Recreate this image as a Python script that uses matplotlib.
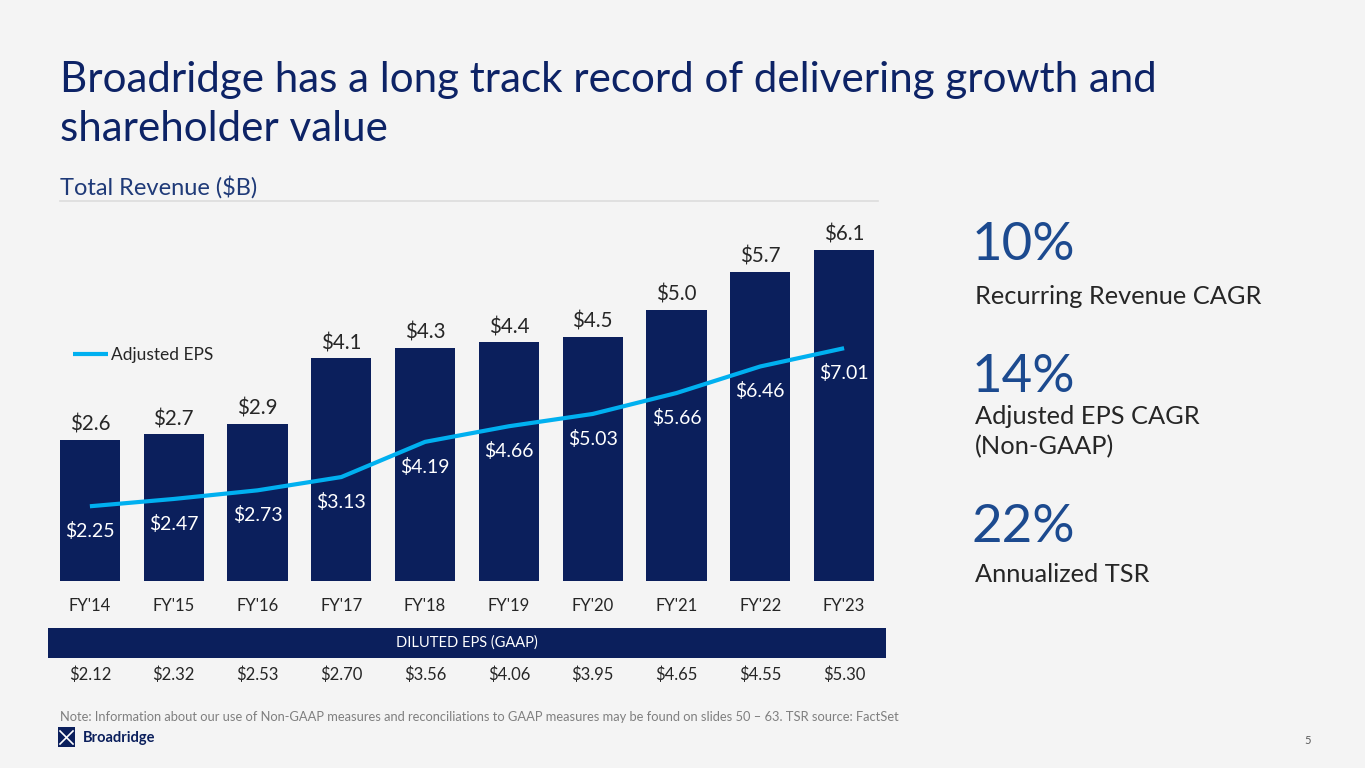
import matplotlib.pyplot as plt
from matplotlib.patches import Rectangle
from matplotlib.lines import Line2D

plt.rcParams['font.family'] = ['Lato', 'DejaVu Sans']

years = ["FY'14", "FY'15", "FY'16", "FY'17", "FY'18", "FY'19", "FY'20", "FY'21", "FY'22", "FY'23"]
revenue = [2.6, 2.7, 2.9, 4.1, 4.3, 4.4, 4.5, 5.0, 5.7, 6.1]
adj_eps = [2.25, 2.47, 2.73, 3.13, 4.19, 4.66, 5.03, 5.66, 6.46, 7.01]
diluted_eps = [2.12, 2.32, 2.53, 2.70, 3.56, 4.06, 3.95, 4.65, 4.55, 5.30]

stats = ["10%", "14%", "22%"]
stat_labels = ["Recurring Revenue CAGR", "Adjusted EPS CAGR\n(Non-GAAP)", "Annualized TSR"]

BG = '#f4f4f4'
NAVY = '#0b1f5c'
CYAN = '#00b0f0'
TITLE_C = '#0d2366'
STAT_C = '#1c4a8f'
TXT = '#262626'

W, H = 1365, 768
fig = plt.figure(figsize=(W / 100, H / 100), dpi=100, facecolor=BG)


def fx(px):
    return px / W


def fy(py):
    return 1 - py / H


# title block
fig.text(fx(60), fy(80), "Broadridge has a long track record of delivering growth and",
         fontsize=30.3, color=TITLE_C, va='center', ha='left')
fig.text(fx(60), fy(129), "shareholder value",
         fontsize=30.3, color=TITLE_C, va='center', ha='left')
fig.text(fx(60), fy(187), "Total Revenue ($B)", fontsize=17, color='#1f3a78', va='center', ha='left')
fig.add_artist(Line2D([fx(60), fx(878)], [fy(201), fy(201)], color='#dcdcdc', lw=1.2))

# chart
ax = fig.add_axes([fx(48), fy(581), fx(886) - fx(48), 361 / H])
ax.set_facecolor('none')
x = range(len(years))
bars = ax.bar(x, revenue, width=0.716, color=NAVY, zorder=2)
ax.set_xlim(-0.5, len(years) - 0.5)
ax.set_ylim(0, 6.65)
for b, v in zip(bars, revenue):
    ax.annotate(f"${v:.1f}", (b.get_x() + b.get_width() / 2, v), xytext=(0, 15),
                textcoords='offset pixels', ha='center', va='center', fontsize=14.8, color=TXT)
for i, lab in enumerate(years):
    ax.annotate(lab, (i, 0), xycoords=('data', 'axes fraction'), xytext=(0, -25),
                textcoords='offset pixels', ha='center', va='center', fontsize=12, color=TXT)
    ax.annotate(f"${diluted_eps[i]:.2f}", (i, 0), xycoords=('data', 'axes fraction'), xytext=(0, -94),
                textcoords='offset pixels', ha='center', va='center', fontsize=12, color=TXT)
for s in ax.spines.values():
    s.set_visible(False)
ax.set_xticks([])
ax.set_yticks([])

ax2 = ax.twinx()
ax2.set_ylim(0, 10.87)
ax2.plot(x, adj_eps, color=CYAN, lw=3, solid_capstyle='butt', zorder=3, label='Adjusted EPS')
for i, v in enumerate(adj_eps):
    ax2.annotate(f"${v:.2f}", (i, v), xytext=(0, -25), textcoords='offset pixels',
                 ha='center', va='center', fontsize=14, color='white')
for s in ax2.spines.values():
    s.set_visible(False)
ax2.set_yticks([])
ax2.legend(loc='upper left', bbox_to_anchor=((66 - 48) / 838, (581 - 340) / 361),
           frameon=False, fontsize=12.5, handlelength=2.0, handletextpad=0.2,
           labelcolor=TXT, borderaxespad=0)

# diluted EPS band
fig.add_artist(Rectangle((fx(48), fy(658)), fx(886) - fx(48), 30 / H, color=NAVY, lw=0))
fig.text(fx(467), fy(643), "DILUTED EPS (GAAP)", fontsize=10.5, color='white', ha='center', va='center')

# right-hand stats
stat_y = [245, 377, 527]
label_y = [296, 432, 575]
for s, lab, sy, ly in zip(stats, stat_labels, stat_y, label_y):
    fig.text(fx(972), fy(sy), s, fontsize=38, color=STAT_C, ha='left', va='center')
    fig.text(fx(975), fy(ly), lab, fontsize=18.3, color=TXT, ha='left', va='center', linespacing=1.35)

# footer
fig.text(fx(60), fy(717), "Note: Information about our use of Non-GAAP measures and reconciliations to GAAP "
         "measures may be found on slides 50 \u2013 63. TSR source: FactSet",
         fontsize=9.3, color='#7f7f7f', ha='left', va='center')
fig.add_artist(Rectangle((fx(58), fy(747)), 17 / W, 20 / H, color=NAVY, lw=0))
fig.add_artist(Line2D([fx(60), fx(73)], [fy(731), fy(744)], color='white', lw=1.2))
fig.add_artist(Line2D([fx(60), fx(73)], [fy(744), fy(731)], color='white', lw=1.2))
fig.text(fx(83), fy(738), "Broadridge", fontsize=10.5, fontweight='bold', color=NAVY, ha='left', va='center')
fig.text(fx(1308), fy(740), "5", fontsize=8, color='#595959', ha='center', va='center')

fig.savefig('out.png', dpi=100, facecolor=BG)
